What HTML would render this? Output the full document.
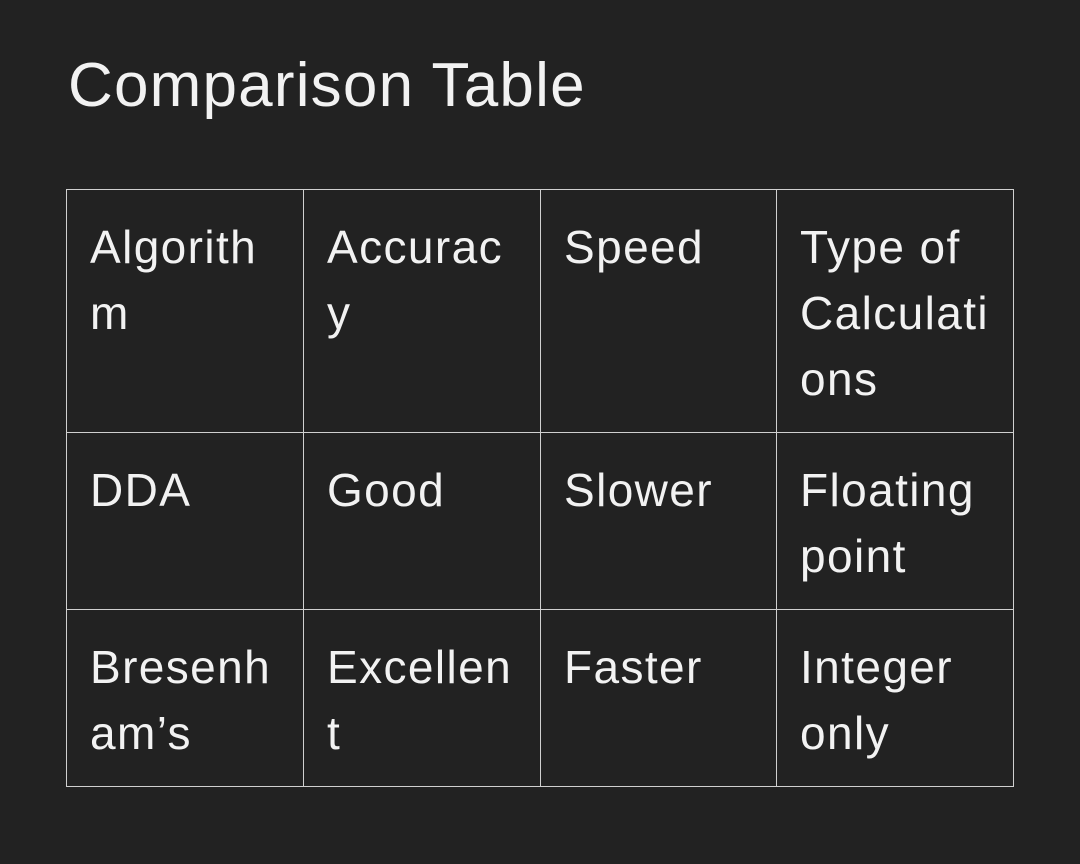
<!DOCTYPE html>
<html><head><meta charset="utf-8"><style>
html,body{margin:0;padding:0;background:#222222;}
body{width:1080px;height:864px;position:relative;overflow:hidden;font-family:"Liberation Sans",sans-serif;color:#f2f2f2;}
.t{position:absolute;left:68px;top:46px;font-size:62px;letter-spacing:1.2px;line-height:80px;white-space:nowrap;}
.h{position:absolute;background:#d0d0d0;height:1px;left:66px;width:948px;}
.v{position:absolute;background:#d0d0d0;width:1px;top:189px;height:598px;}
.c{position:absolute;font-size:46px;letter-spacing:1.4px;line-height:66px;white-space:nowrap;}
</style></head><body>
<div class="t">Comparison Table</div>
<div class="h" style="top:189px"></div>
<div class="h" style="top:432px"></div>
<div class="h" style="top:609px"></div>
<div class="h" style="top:786px"></div>
<div class="v" style="left:66px"></div>
<div class="v" style="left:303px"></div>
<div class="v" style="left:540px"></div>
<div class="v" style="left:776px"></div>
<div class="v" style="left:1013px"></div>

<div class="c" style="left:90px;top:214px">Algorith<br>m</div>
<div class="c" style="left:327px;top:214px">Accurac<br>y</div>
<div class="c" style="left:564px;top:214px">Speed</div>
<div class="c" style="left:800px;top:214px">Type of<br>Calculati<br>ons</div>

<div class="c" style="left:90px;top:457px">DDA</div>
<div class="c" style="left:327px;top:457px">Good</div>
<div class="c" style="left:564px;top:457px">Slower</div>
<div class="c" style="left:800px;top:457px">Floating<br>point</div>

<div class="c" style="left:90px;top:634px">Bresenh<br>am’s</div>
<div class="c" style="left:327px;top:634px">Excellen<br>t</div>
<div class="c" style="left:564px;top:634px">Faster</div>
<div class="c" style="left:800px;top:634px">Integer<br>only</div>
</body></html>
